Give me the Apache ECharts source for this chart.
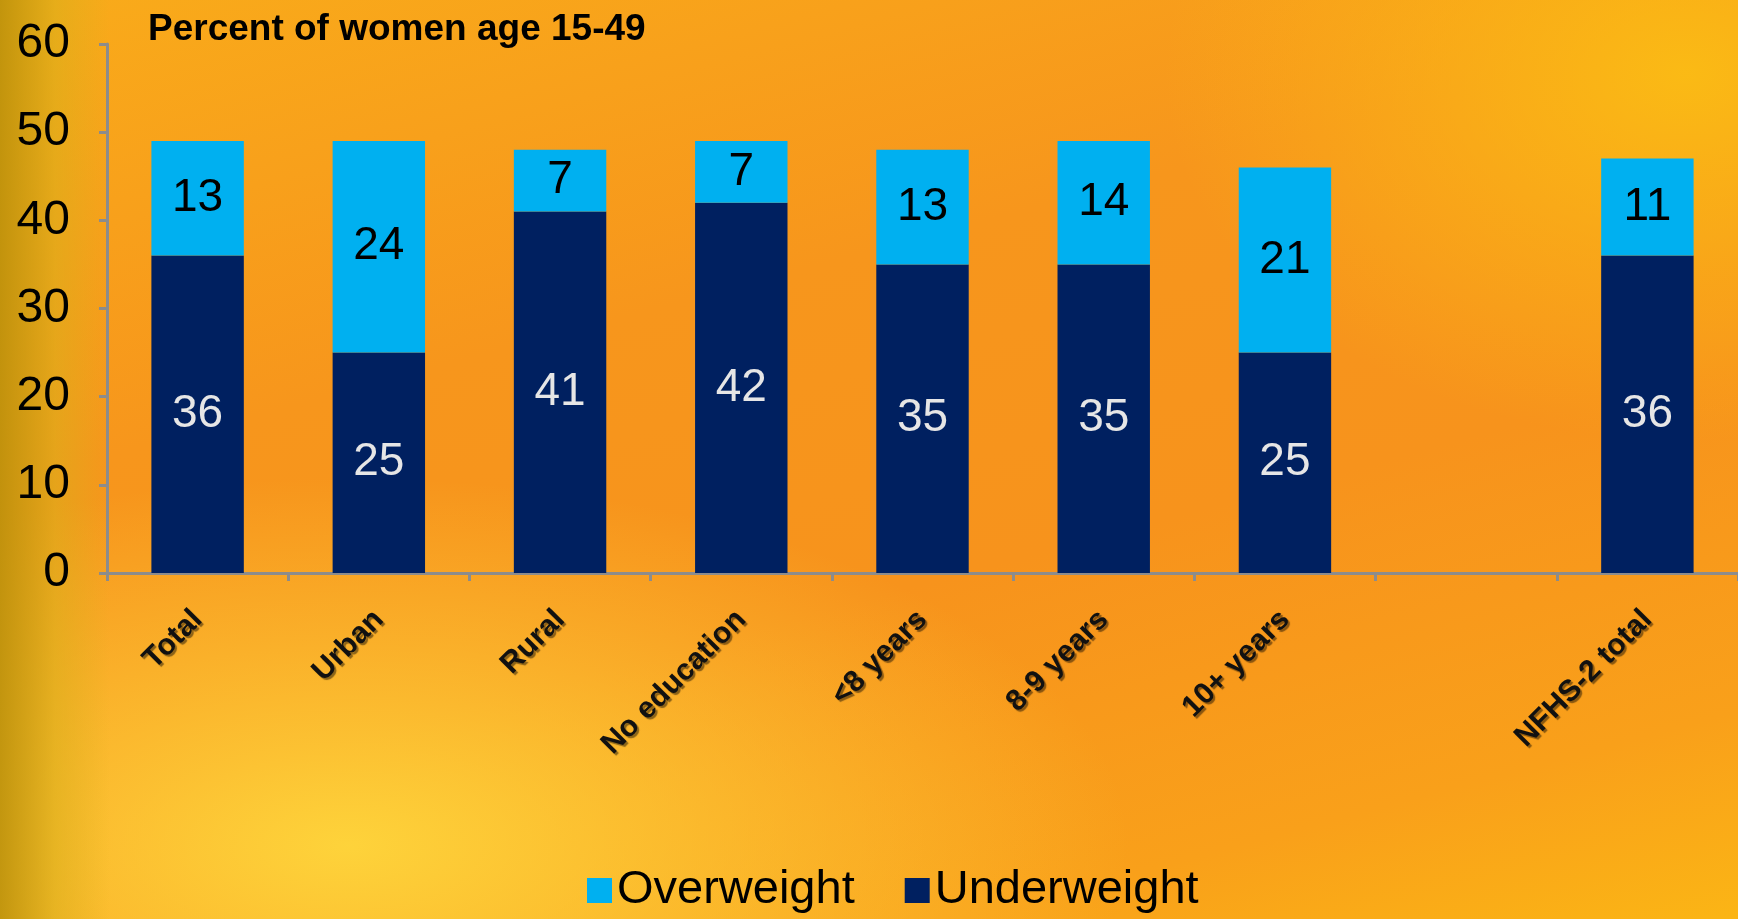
<!DOCTYPE html>
<html>
<head>
<meta charset="utf-8">
<script src="https://cdn.jsdelivr.net/npm/echarts@6/dist/echarts.min.js"></script>
<style>
  html, body { margin: 0; padding: 0; }
  #main {
    width: 1738px; height: 919px;
    background:
      linear-gradient(90deg, rgba(185,145,10,0.85) 0px, rgba(215,175,25,0.55) 55px, rgba(240,190,30,0) 110px),
      radial-gradient(ellipse 45% 40% at 20% 92%, rgba(254,214,60,0.95) 0%, rgba(253,200,40,0) 100%),
      radial-gradient(ellipse 30% 40% at 97% 8%, rgba(251,190,20,0.9) 0%, rgba(251,180,20,0) 100%),
      linear-gradient(165deg, #f9ab1a 0%, #f7961c 35%, #f7931c 60%, #f9a01a 85%, #fbb515 100%);
  }
</style>
</head>
<body>
<div id="main"></div>
<script>
var categories = ['Total', 'Urban', 'Rural', 'No education', '<8 years', '8-9 years', '10+ years', '', 'NFHS-2 total'];
var underweight = [36, 25, 41, 42, 35, 35, 25, '-', 36];
var overweight = [13, 24, 7, 7, 13, 14, 21, '-', 11];
var yTicks = [0, 10, 20, 30, 40, 50, 60];

var myChart = echarts.init(document.getElementById('main'));
var fontFam = '"Liberation Sans", Arial, sans-serif';

var option = {
  backgroundColor: 'transparent',
  animation: false,
  title: {
    text: 'Percent of women age 15-49',
    left: 143,
    top: 6,
    textStyle: { fontFamily: fontFam, fontSize: 37, fontWeight: 'bold', color: '#000' }
  },
  legend: {
    data: ['Overweight', 'Underweight'],
    bottom: 0,
    left: 582,
    icon: 'rect',
    itemWidth: 25,
    itemHeight: 25,
    itemGap: 50,
    textStyle: { fontFamily: fontFam, fontSize: 47, color: '#000' }
  },
  grid: {
    left: 107,
    right: 0,
    top: 44,
    bottom: 346
  },
  xAxis: {
    type: 'category',
    data: categories,
    axisLine: { lineStyle: { color: '#8c8c8c', width: 3 } },
    axisTick: { show: true, length: 8, lineStyle: { color: '#8c8c8c', width: 3 } },
    axisLabel: {
      rotate: 45,
      margin: 42,
      interval: 0,
      fontFamily: fontFam,
      fontSize: 30,
      fontWeight: 'bold',
      color: '#111',
      textShadowColor: 'rgba(0,0,0,0.45)',
      textShadowOffsetX: 2,
      textShadowOffsetY: 2,
      textShadowBlur: 1
    }
  },
  yAxis: {
    type: 'value',
    min: yTicks[0],
    max: yTicks[yTicks.length - 1],
    interval: 10,
    splitLine: { show: false },
    axisLine: { show: true, lineStyle: { color: '#8c8c8c', width: 3 } },
    axisTick: { show: true, length: 8, lineStyle: { color: '#8c8c8c', width: 3 } },
    axisLabel: { fontFamily: fontFam, fontSize: 48, color: '#000', margin: 37 }
  },
  series: [
    {
      name: 'Underweight',
      type: 'bar',
      stack: 'total',
      barWidth: '51%',
      itemStyle: { color: '#002060' },
      label: { show: true, position: 'inside', fontFamily: fontFam, fontSize: 46, color: '#e6e6e6' },
      data: underweight
    },
    {
      name: 'Overweight',
      type: 'bar',
      stack: 'total',
      barWidth: '51%',
      itemStyle: { color: '#00b0f0' },
      label: { show: true, position: 'inside', fontFamily: fontFam, fontSize: 46, color: '#000' },
      data: overweight
    }
  ]
};

myChart.setOption(option);
</script>
</body>
</html>
